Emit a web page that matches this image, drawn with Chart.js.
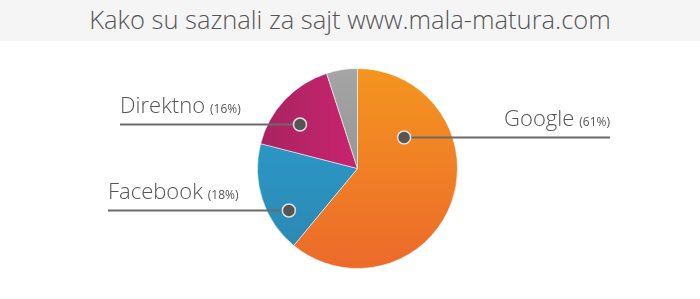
<!DOCTYPE html>
<html>
<head>
<meta charset="utf-8">
<script src="https://cdn.jsdelivr.net/npm/chart.js@4.4.1/dist/chart.umd.min.js"></script>
<style>
  body { margin: 0; width: 700px; height: 299px; background: #fff; overflow: hidden; font-family: 'Open Sans', sans-serif; }
  .title { height: 41px; background: #f5f5f5; color: #555; font-size: 25.5px; font-weight: 300; text-align: center; line-height: 39px; }
  .chart-container { position: relative; width: 700px; height: 258px; }
</style>
</head>
<body>
<div class="title">Kako su saznali za sajt www.mala-matura.com</div>
<div class="chart-container"><canvas id="pie"></canvas></div>
<script>
// data
const categories = ['Google', 'Facebook', 'Direktno', 'Ostalo'];
const shares = [61, 18, 16, 5];
const labelled = [true, true, true, false];

// colours: [from, to, direction]
const sliceColors = [
  ['#f4951f', '#ec6a2b', 'v'],
  ['#2aa0d1', '#2d86b0', 'v'],
  ['#a8235f', '#c8246f', 'h'],
  ['#a5a5a5', '#878787', 'v']
];

// where the callout dot sits inside a slice: [fraction of the angle, fraction of the radius]
// and where the leader line ends (x in px)
const dotPlace = [[0.253, 0.565], [0.30, 0.80], [0.41, 0.73], null];
const lineEnd = [610, 108, 120, null];

function sliceFill(ctx) {
  const area = ctx.chart.chartArea;
  if (!area) return sliceColors[ctx.dataIndex][0];
  const c = sliceColors[ctx.dataIndex];
  const g = c[2] === 'h'
    ? ctx.chart.ctx.createLinearGradient(area.left, 0, (area.left + area.right) / 2, 0)
    : ctx.chart.ctx.createLinearGradient(0, area.top, 0, area.bottom);
  g.addColorStop(0, c[0]);
  g.addColorStop(1, c[1]);
  return g;
}

const callouts = {
  id: 'callouts',
  afterDatasetsDraw(chart) {
    const ctx = chart.ctx;
    const arcs = chart.getDatasetMeta(0).data;
    arcs.forEach((arc, i) => {
      if (!labelled[i]) return;
      const p = arc.getProps(['x', 'y', 'startAngle', 'endAngle', 'outerRadius'], true);
      const a = p.startAngle + (p.endAngle - p.startAngle) * dotPlace[i][0];
      const r = p.outerRadius * dotPlace[i][1];
      const dx = p.x + Math.cos(a) * r;
      const dy = Math.round(p.y + Math.sin(a) * r) + 0.5;
      const endX = lineEnd[i];

      ctx.save();
      ctx.strokeStyle = '#6a6a6a';
      ctx.lineWidth = 2;
      ctx.beginPath();
      ctx.moveTo(endX, dy);
      ctx.lineTo(dx, dy);
      ctx.stroke();

      ctx.beginPath();
      ctx.arc(dx, dy, 6.5, 0, Math.PI * 2);
      ctx.fillStyle = '#555';
      ctx.fill();
      ctx.lineWidth = 1.5;
      ctx.strokeStyle = '#e0e0e0';
      ctx.stroke();

      const name = categories[i];
      const pct = '(' + shares[i] + '%)';
      ctx.fillStyle = '#555';
      ctx.textBaseline = 'alphabetic';
      const big = '300 22px "Open Sans"';
      const small = '400 12px "Open Sans"';
      const ty = dy - 12;
      if (endX > dx) {
        ctx.font = small;
        const pw = ctx.measureText(pct).width;
        ctx.textAlign = 'right';
        ctx.fillText(pct, endX, ty);
        ctx.font = big;
        ctx.fillText(name, endX - pw - 5, ty);
      } else {
        ctx.font = big;
        const nw = ctx.measureText(name).width;
        ctx.textAlign = 'left';
        ctx.fillText(name, endX, ty);
        ctx.font = small;
        ctx.fillText(pct, endX + nw + 5, ty);
      }
      ctx.restore();
    });
  }
};

new Chart(document.getElementById('pie'), {
  type: 'pie',
  data: {
    labels: categories,
    datasets: [{
      data: shares,
      backgroundColor: sliceFill,
      borderColor: 'rgba(255,255,255,0.55)',
      borderWidth: 1
    }]
  },
  options: {
    responsive: true,
    maintainAspectRatio: false,
    animation: false,
    layout: { padding: { top: 27, bottom: 30, left: 257, right: 242 } },
    plugins: {
      legend: { display: false },
      tooltip: { enabled: false }
    }
  },
  plugins: [callouts]
});
</script>
</body>
</html>
